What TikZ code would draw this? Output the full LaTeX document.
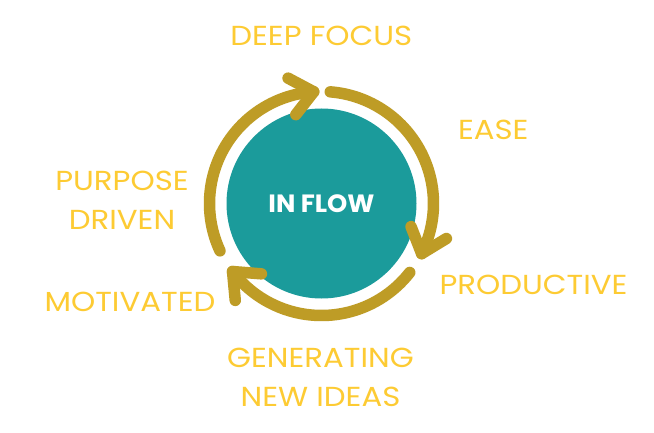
\documentclass[tikz,border=0pt]{standalone}
\usepackage{fontspec}
\usetikzlibrary{calc}
\newfontfamily\labelfont[FakeStretch=1.12]{Poppins}
\newfontfamily\hubfont[FakeStretch=1.03]{Poppins}
\definecolor{flowteal}{HTML}{1B9B9B}
\definecolor{flowgold}{HTML}{BE9C26}
\definecolor{flowyellow}{HTML}{FDCB33}
\begin{document}
\begin{tikzpicture}[x=1pt,y=1pt,
  ring/.style={draw=flowgold,line width=11.5pt,line cap=round,line join=round},
  lbl/.style={text=flowyellow,inner sep=0pt,align=center,
    font=\labelfont\fontsize{27.5}{39}\selectfont},
  hub/.style={circle,fill=flowteal,minimum size=190pt,inner sep=0pt,
    text=white,font=\hubfont\bfseries\fontsize{25}{30}\selectfont}]
\useasboundingbox (0,0) rectangle (654,432);
\fill[white] (0,0) rectangle (654,432);
\coordinate (c) at (321.5,228.5);
\node[hub] (hub) at (c) {IN FLOW};
% arcs
\coordinate (tipA) at ($(c)+(94:112)$);
\coordinate (tipB) at ($(c)+(-26.6:112)$);
\coordinate (tipC) at ($(c)+(-142.6:112)$);
\draw[ring] ($(c)+(205:112)$) arc[start angle=205,end angle=94,radius=112];
\draw[ring] ($(tipA)+(232:29)$) -- (tipA) -- ($(tipA)+(152:29)$);
\draw[ring] ($(c)+(85.5:112)$) arc[start angle=85.5,end angle=-26.6,radius=112];
\draw[ring] ($(tipB)+(111.4:29)$) -- (tipB) -- ($(tipB)+(31.4:29)$);
\draw[ring] ($(c)+(-38:112)$) arc[start angle=-38,end angle=-142.6,radius=112];
\draw[ring] ($(tipC)+(-4.6:29)$) -- (tipC) -- ($(tipC)+(-84.6:29)$);
% labels
\node[lbl] (deep) at (321.3,396.5) {DEEP FOCUS};
\node[lbl] (ease) at (493.3,302.5) {EASE};
\node[lbl] (prod) at (533.5,146.7) {PRODUCTIVE};
\node[lbl] (gen) at (320.5,54.7) {GENERATING\\NEW IDEAS};
\node[lbl] (mot) at (130,130.3) {MOTIVATED};
\node[lbl] (purp) at (122,232) {PURPOSE\\DRIVEN};
\end{tikzpicture}
\end{document}
